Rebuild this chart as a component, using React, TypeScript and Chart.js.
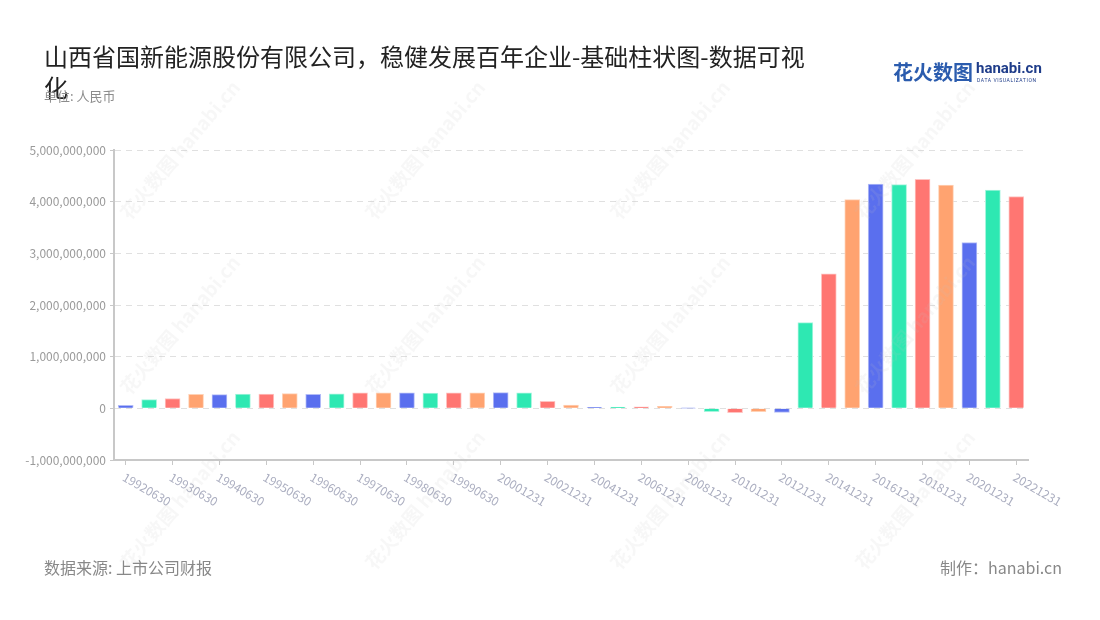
import React, { useEffect, useRef } from "react";
import { Chart, registerables } from "chart.js";

Chart.register(...registerables);

const categories = [
  "19920630", "19921231", "19930630", "19931231", "19940630", "19941231",
  "19950630", "19951231", "19960630", "19961231", "19970630", "19971231",
  "19980630", "19981231", "19990630", "19991231", "20001231", "20011231",
  "20021231", "20031231", "20041231", "20051231", "20061231", "20071231",
  "20081231", "20091231", "20101231", "20111231", "20121231", "20131231",
  "20141231", "20151231", "20161231", "20171231", "20181231", "20191231",
  "20201231", "20211231", "20221231",
];

const values = [
  58000000, 170000000, 190000000, 270000000, 265000000, 277000000,
  277000000, 285000000, 270000000, 280000000, 300000000, 300000000,
  302000000, 297000000, 300000000, 300000000, 303000000, 300000000,
  135000000, 65000000, 20000000, 25000000, 30000000, 40000000,
  5000000, -65000000, -85000000, -65000000, -80000000, 1660000000,
  2605000000, 4040000000, 4340000000, 4330000000, 4430000000, 4320000000,
  3210000000, 4225000000, 4100000000,
];

const palette = ["#5a6fee", "#2ee8b2", "#ff7672", "#ffa370"];
const paletteBorder = ["#b3bcf7", "#a6f5dd", "#ffc3c1", "#ffd2b6"];

const yTicks = [-1000000000, 0, 1000000000, 2000000000, 3000000000, 4000000000, 5000000000];

const FONT = '"Noto Sans CJK SC", "Noto Sans", sans-serif';

export default function App() {
  const ref = useRef<HTMLCanvasElement | null>(null);

  useEffect(() => {
    if (!ref.current) return;

    const labelPlugin = {
      id: "rotLabels",
      afterDraw(chart: any) {
        const ctx = chart.ctx;
        const xs = chart.scales.x;
        const yBottom = chart.chartArea.bottom;
        ctx.save();
        ctx.font = `12px ${FONT}`;
        ctx.fillStyle = "#abaec0";
        ctx.textAlign = "left";
        ctx.textBaseline = "middle";
        categories.forEach((c, i) => {
          if (i % 2 !== 0) return;
          const x = xs.getPixelForValue(i);
          ctx.save();
          ctx.translate(x - 2, yBottom + 16);
          ctx.rotate((30 * Math.PI) / 180);
          ctx.fillText(c, 0, 0);
          ctx.restore();
        });
        // watermarks
        ctx.fillStyle = "rgba(190,190,190,0.13)";
        const cols = [180, 425, 670, 915];
        const rows = [150, 325, 500];
        rows.forEach((ry) => {
          cols.forEach((cx) => {
            ctx.save();
            ctx.translate(cx, ry);
            ctx.rotate((-50 * Math.PI) / 180);
            ctx.textAlign = "center";
            ctx.font = `bold 19px ${FONT}`;
            ctx.fillText("花火数图 hanabi.cn", 0, 0);
            ctx.restore();
          });
        });
        ctx.restore();
      },
    };

    const chart = new Chart(ref.current, {
      type: "bar",
      data: {
        labels: categories,
        datasets: [
          {
            data: values,
            backgroundColor: values.map((_, i) => palette[i % 4]),
            borderColor: values.map((_, i) => paletteBorder[i % 4]),
            borderWidth: 1,
            barThickness: 15,
          },
        ],
      },
      options: {
        responsive: false,
        animation: false,
        layout: { padding: { top: 150, left: 0, right: 72, bottom: 0 } },
        plugins: {
          legend: { display: false },
          tooltip: { enabled: false },
          title: { display: false },
        },
        scales: {
          x: {
            offset: true,
            afterFit: (s: any) => {
              s.height = 160;
            },
            ticks: { display: false },
            grid: {
              offset: false,
              drawOnChartArea: false,
              drawTicks: true,
              tickLength: 5,
              color: (c: any) => (c.index % 2 === 0 ? "#c8c8c8" : "rgba(0,0,0,0)"),
              lineWidth: 1,
            },
            border: { display: true, color: "#c8c8c8", width: 2 },
          },
          y: {
            min: -1000000000,
            max: 5000000000,
            afterFit: (s: any) => {
              s.width = 114;
            },
            afterBuildTicks: (s: any) => {
              s.ticks = yTicks.map((v) => ({ value: v }));
            },
            ticks: {
              color: "#9a9a9a",
              font: { family: FONT, size: 12 },
              padding: 4,
              callback: (v: any) => Number(v).toLocaleString("en-US"),
            },
            grid: {
              color: "#e0e0e0",
              lineWidth: 1,
              drawTicks: true,
              tickLength: 4,
              tickColor: "#c8c8c8",
              tickBorderDash: [],
            },
            border: { display: true, color: "#c8c8c8", width: 2, dash: [6, 5] },
          },
        },
      },
      plugins: [labelPlugin],
    });

    return () => chart.destroy();
  }, []);

  return (
    <div style={{ position: "absolute", left: 0, top: 0, width: 1100, height: 620, background: "#fff", fontFamily: FONT }}>
      <canvas ref={ref} width={1100} height={620} style={{ position: "absolute", left: 0, top: 0, width: 1100, height: 620 }} />
      <div style={{ position: "absolute", left: 44, top: 40, width: 775, fontSize: 24, lineHeight: "31px", color: "#222" }}>
        山西省国新能源股份有限公司，稳健发展百年企业-基础柱状图-数据可视化
      </div>
      <div style={{ position: "absolute", left: 44, top: 87, fontSize: 13, lineHeight: "18px", color: "#8c8c8c" }}>
        单位: 人民币
      </div>
      <div style={{ position: "absolute", left: 893, top: 58, fontSize: 20, lineHeight: "28px", fontWeight: 700, color: "#2b5cae", letterSpacing: 0 }}>
        花火数图
      </div>
      <div style={{ position: "absolute", left: 976, top: 58, fontSize: 15, lineHeight: "20px", fontWeight: 700, color: "#1f3d8a", fontFamily: "Roboto, sans-serif" }}>
        hanabi.cn
      </div>
      <div style={{ position: "absolute", left: 977, top: 77, fontSize: 5, lineHeight: "6px", color: "#1f3d8a", letterSpacing: 0.6, fontFamily: "Roboto, sans-serif" }}>
        DATA VISUALIZATION
      </div>
      <div style={{ position: "absolute", left: 44, top: 555, fontSize: 16, lineHeight: "24px", color: "#888" }}>
        数据来源: 上市公司财报
      </div>
      <div style={{ position: "absolute", right: 38, top: 555, fontSize: 16, lineHeight: "24px", color: "#888" }}>
        制作：hanabi.cn
      </div>
    </div>
  );
}
